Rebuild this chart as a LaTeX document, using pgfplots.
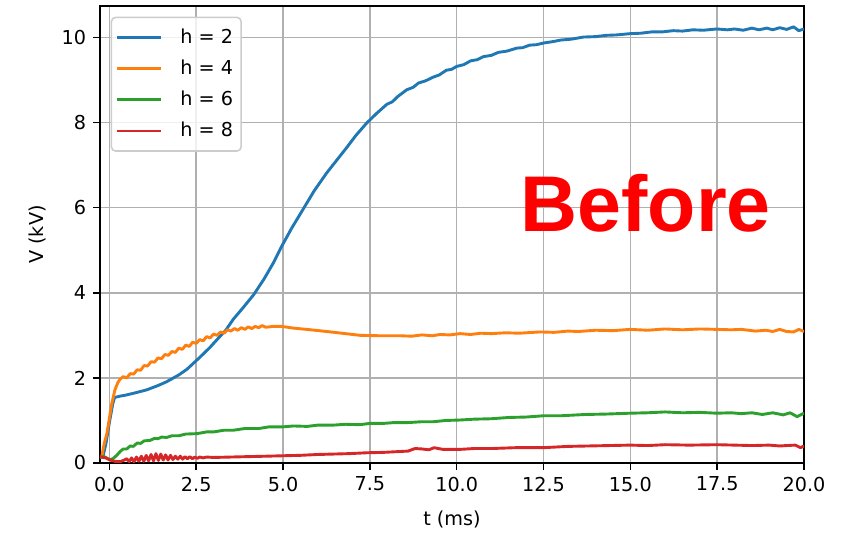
\documentclass[border=0pt]{standalone}
\usepackage{pgfplots}
\pgfplotsset{compat=1.18}
\usepackage{fontspec}
\setmainfont{DejaVu Sans}
\newfontfamily\stampfont{Liberation Sans}

\definecolor{c2}{HTML}{1F77B4}
\definecolor{c4}{HTML}{FF7F0E}
\definecolor{c6}{HTML}{2CA02C}
\definecolor{c8}{HTML}{D62728}
\definecolor{gridgray}{HTML}{B0B0B0}
\definecolor{legframe}{HTML}{CCCCCC}

\begin{document}
\begin{tikzpicture}
\useasboundingbox (-50pt,-35pt) rectangle (375.5pt,231.5pt);
\begin{axis}[
  at={(0,0)}, anchor=south west,
  scale only axis, width=352pt, height=228.5pt,
  xmin=-0.27, xmax=20, ymin=0, ymax=10.74,
  xtick={0,2.5,5,7.5,10,12.5,15,17.5,20},
  ytick={0,2,4,6,8,10},
  xticklabel style={/pgf/number format/.cd, fixed, fixed zerofill, precision=1},
  /pgf/number format/assume math mode=true,
  every tick label/.append style={font=\fontsize{9.6}{11}\selectfont},
  xtick pos=bottom, ytick pos=left,
  tick align=outside, major tick length=3.4pt,
  tick style={black, line width=0.77pt},
  axis line style={line width=0.77pt},
  grid=major, grid style={gridgray, line width=0.77pt},
  xlabel={t (ms)}, ylabel={V (kV)},
  label style={font=\fontsize{9.6}{11}\selectfont},
  xlabel style={at={(axis description cs:0.5,-0.1357)}, anchor=base},
  ylabel style={at={(axis description cs:-0.0895,0.5)}, anchor=center},
  legend cell align=left,
  legend style={at={(0.0152,0.9766)}, anchor=north west,
    draw=legframe, line width=0.77pt, rounded corners=2pt,
    fill=white, fill opacity=0.8, text opacity=1,
    font=\fontsize{9.6}{11}\selectfont,
    inner xsep=2pt, inner ysep=3.6pt, row sep=2.8pt},
  legend image code/.code={\draw[line width=1.45pt] (0pt,0pt) -- (22pt,0pt);
    \path (29pt,0pt);},
  every axis plot/.append style={line width=1.45pt, line join=round},
]

% h = 2
\addplot[c2] coordinates {
(-0.2,0.10) (-0.1,0.45) (0.0,0.95) (0.1,1.40) (0.15,1.54) (0.3,1.57)
(0.5,1.60) (0.8,1.66) (1.08,1.72) (1.4,1.82) (1.65,1.91) (2.0,2.07)
(2.23,2.20) (2.6,2.48) (2.9,2.72) (3.1,2.90) (3.35,3.12) (3.57,3.38)
(3.85,3.65) (4.15,3.95) (4.45,4.32) (4.72,4.70) (4.96,5.09) (5.25,5.52)
(5.59,5.98) (5.9,6.40) (6.26,6.82) (6.55,7.12) (6.84,7.42) (7.1,7.70)
(7.41,7.99) (7.7,8.22) (7.99,8.43) (8.15,8.49) (8.3,8.61) (8.56,8.77)
(8.75,8.83) (8.9,8.93) (9.1,8.98) (9.33,9.07) (9.5,9.12) (9.7,9.23)
(9.85,9.25) (10.0,9.32) (10.2,9.36) (10.4,9.45) (10.6,9.48) (10.77,9.55)
(11.0,9.58) (11.2,9.65) (11.45,9.68) (11.73,9.75) (11.9,9.76) (12.1,9.82)
(12.3,9.83) (12.5,9.87) (12.75,9.90) (13.0,9.94) (13.3,9.96) (13.65,10.01)
(14.0,10.02) (14.3,10.05) (14.6,10.06) (15.0,10.09) (15.3,10.10) (15.6,10.13)
(15.9,10.13) (16.24,10.16) (16.5,10.15) (16.8,10.18) (17.1,10.17) (17.49,10.20)
(17.8,10.18) (18.0,10.20) (18.25,10.17) (18.5,10.22) (18.7,10.18) (18.93,10.22)
(19.1,10.18) (19.3,10.23) (19.5,10.19) (19.7,10.25) (19.85,10.16) (20.0,10.20)
};
\addlegendentry{h = 2}

% h = 4
\addplot[c4] coordinates {
(-0.22,0.15) (-0.15,0.45) (-0.07,0.70) (0.0,1.05) (0.07,1.40) (0.16,1.72)
(0.25,1.90) (0.31,1.97) (0.4,2.03) (0.5,2.00) (0.6,2.10) (0.7,2.09)
(0.8,2.19) (0.9,2.18) (1.0,2.29) (1.1,2.28) (1.2,2.38) (1.3,2.37)
(1.4,2.47) (1.5,2.45) (1.6,2.55) (1.7,2.53) (1.8,2.62) (1.9,2.60)
(2.0,2.70) (2.1,2.67) (2.2,2.77) (2.3,2.74) (2.4,2.84) (2.5,2.81)
(2.6,2.90) (2.7,2.87) (2.8,2.97) (2.9,2.94) (3.0,3.03) (3.1,3.00)
(3.2,3.08) (3.3,3.05) (3.4,3.13) (3.5,3.10) (3.6,3.16) (3.7,3.12)
(3.8,3.18) (3.9,3.14) (4.0,3.20) (4.1,3.16) (4.2,3.21) (4.3,3.18)
(4.4,3.23) (4.5,3.19) (4.72,3.21) (4.96,3.21) (5.3,3.17) (5.8,3.13)
(6.26,3.09) (6.8,3.04) (7.22,3.00) (7.8,2.99) (8.37,2.99) (8.7,2.98)
(9.0,3.01) (9.3,2.99) (9.52,3.02) (9.8,3.01) (10.1,3.04) (10.4,3.02)
(10.7,3.05) (11.0,3.04) (11.4,3.06) (11.8,3.05) (12.4,3.08) (12.8,3.07)
(13.2,3.10) (13.5,3.09) (14.0,3.12) (14.5,3.11) (14.99,3.14) (15.5,3.12)
(16.0,3.15) (16.5,3.13) (17.0,3.15) (17.49,3.14) (17.9,3.13) (18.2,3.14)
(18.6,3.10) (18.9,3.12) (19.1,3.09) (19.3,3.14) (19.5,3.09) (19.7,3.08)
(19.85,3.14) (20.0,3.09)
};
\addlegendentry{h = 4}

% h = 6
\addplot[c6] coordinates {
(-0.27,0.13) (-0.15,0.15) (0.0,0.08) (0.1,0.10) (0.2,0.17) (0.31,0.27)
(0.4,0.33) (0.5,0.33) (0.6,0.40) (0.69,0.39) (0.8,0.47) (0.9,0.46)
(1.0,0.52) (1.17,0.53) (1.3,0.58) (1.4,0.57) (1.5,0.61) (1.65,0.60)
(1.8,0.64) (2.0,0.64) (2.2,0.68) (2.52,0.69) (2.8,0.73) (3.0,0.73)
(3.3,0.77) (3.57,0.77) (3.9,0.81) (4.3,0.81) (4.6,0.85) (5.01,0.85)
(5.3,0.87) (5.7,0.86) (6.0,0.89) (6.45,0.89) (6.8,0.91) (7.2,0.90)
(7.5,0.93) (7.89,0.93) (8.2,0.95) (8.6,0.95) (9.0,0.97) (9.33,0.97)
(9.7,1.00) (10.1,1.01) (10.5,1.03) (11.0,1.04) (11.5,1.07) (12.0,1.08)
(12.5,1.11) (13.0,1.11) (13.7,1.14) (14.3,1.15) (14.99,1.17) (15.5,1.18)
(16.0,1.20) (16.5,1.18) (17.0,1.19) (17.49,1.17) (17.9,1.18) (18.2,1.16)
(18.5,1.18) (18.8,1.14) (19.1,1.18) (19.4,1.13) (19.6,1.18) (19.8,1.09)
(20.0,1.17)
};
\addlegendentry{h = 6}

% h = 8
\addplot[c8] coordinates {
(-0.27,0.15) (-0.1,0.12) (0.02,0.07) (0.15,0.04) (0.31,0.03) (0.43,0.07)
(0.5,0.10) (0.57,0.03) (0.64,0.12) (0.71,0.03) (0.78,0.14) (0.85,0.04)
(0.92,0.16) (0.99,0.04) (1.06,0.18) (1.13,0.05) (1.2,0.20) (1.27,0.05)
(1.34,0.22) (1.41,0.06) (1.48,0.21) (1.55,0.07) (1.62,0.19) (1.69,0.07)
(1.76,0.18) (1.83,0.08) (1.9,0.16) (1.97,0.09) (2.04,0.16) (2.11,0.09)
(2.18,0.15) (2.25,0.10) (2.32,0.15) (2.39,0.10) (2.46,0.14) (2.53,0.11)
(2.6,0.14) (2.7,0.12) (2.8,0.14) (3.0,0.13) (3.5,0.14) (4.0,0.15)
(4.53,0.16) (5.0,0.17) (5.5,0.18) (6.0,0.20) (6.45,0.21) (6.9,0.22)
(7.4,0.24) (7.9,0.25) (8.37,0.27) (8.6,0.28) (8.8,0.34) (9.0,0.33)
(9.2,0.31) (9.35,0.36) (9.6,0.32) (10.1,0.32) (10.5,0.34) (11.0,0.34)
(11.7,0.36) (12.5,0.36) (13.2,0.39) (13.8,0.40) (14.4,0.41) (14.99,0.42)
(15.5,0.41) (16.0,0.43) (16.7,0.42) (17.49,0.43) (18.0,0.42) (18.5,0.41)
(19.0,0.42) (19.3,0.40) (19.5,0.41) (19.75,0.42) (19.9,0.36) (20.0,0.40)
};
\addlegendentry{h = 8}

\node[anchor=base, text=red, inner sep=0pt,
  font=\stampfont\bfseries\fontsize{39.5}{39.5}\selectfont]
  at (axis cs:15.44,5.43) {Before};
\end{axis}
\end{tikzpicture}
\end{document}
